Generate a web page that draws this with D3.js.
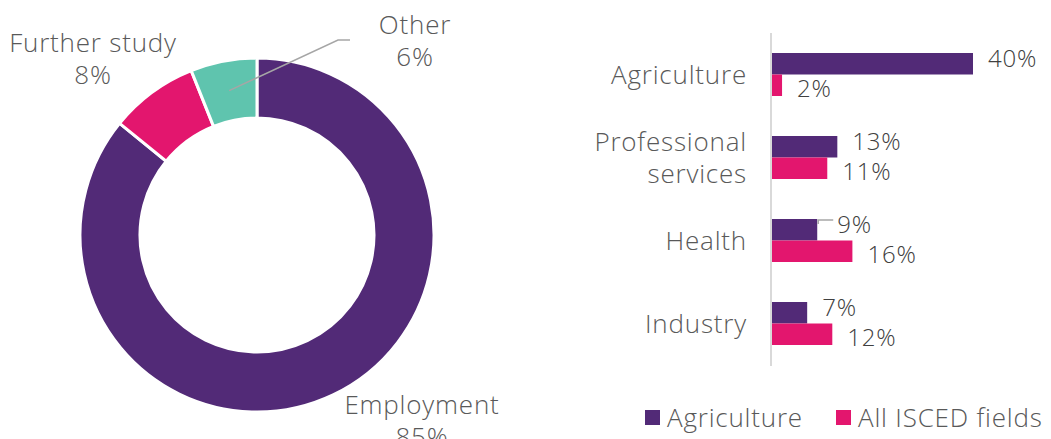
<!DOCTYPE html>
<html>
<head>
<meta charset="utf-8">
<script src="https://cdn.jsdelivr.net/npm/d3@7"></script>
<style>
  body { margin: 0; background: #fff; }
  text { font-family: "Open Sans", Lato, sans-serif; font-weight: 300; fill: #595959; letter-spacing: 0.8px; }
</style>
</head>
<body>
<svg id="chart" width="1051" height="439"></svg>
<script>
// donut data
var outcomes = ["Employment", "Further study", "Other"];
var outcomeShares = [85, 8, 6];

// bar data
var fields = ["Agriculture", "Professional services", "Health", "Industry"];
var seriesNames = ["Agriculture", "All ISCED fields"];
var agriValues = [40, 13, 9, 7];
var allValues = [2, 11, 16, 12];

var purple = "#522a77", pink = "#e3166e", teal = "#5fc4ae";

var svg = d3.select("#chart");

// ---- donut ----
var pieData = outcomes.map(function (d, i) { return { name: d, value: outcomeShares[i] }; });
var pie = d3.pie().sort(null).value(function (d) { return d.value; });
var arc = d3.arc().innerRadius(117).outerRadius(177);
var colors = d3.scaleOrdinal().domain(outcomes).range([purple, pink, teal]);

var donut = svg.append("g").attr("transform", "translate(257,235)");
donut.selectAll("path")
    .data(pie(pieData))
    .enter().append("path")
    .attr("d", arc)
    .attr("fill", function (d) { return colors(d.data.name); })
    .attr("stroke", "#fff")
    .attr("stroke-width", 3);

// leader line for "Other"
var otherArc = pie(pieData)[2];
var mid = d3.arc().innerRadius(147).outerRadius(147).centroid(otherArc);
donut.append("polyline")
    .attr("points", [[mid[0], mid[1]], [81, -195], [93, -195]].map(function (p) { return p.join(","); }).join(" "))
    .attr("fill", "none")
    .attr("stroke", "#a6a6a6")
    .attr("stroke-width", 1.5);

var pieLabels = [
  { name: "Employment", x: 422, y: 405 },
  { name: "Further study", x: 93, y: 43 },
  { name: "Other", x: 415, y: 25 }
];
pieLabels.forEach(function (l, i) {
  var t = svg.append("text")
      .attr("text-anchor", "middle")
      .attr("font-size", 26)
      .attr("x", l.x).attr("y", l.y);
  t.append("tspan").attr("x", l.x).attr("dy", "0.35em").text(l.name);
  t.append("tspan").attr("x", l.x).attr("dy", 32).text(outcomeShares[i] + "%");
});

// ---- bars ----
var left = 772;
var x = d3.scaleLinear().domain([0, 40]).range([0, 201]);
var y = d3.scaleBand().domain(fields).range([33, 365]);
var inner = d3.scaleBand().domain(seriesNames).range([0, 43]);
var barColors = [purple, pink];

var bars = svg.append("g");
fields.forEach(function (f, i) {
  var vals = [agriValues[i], allValues[i]];
  var y0 = y(f) + y.bandwidth() / 2 - 21.5;
  seriesNames.forEach(function (s, j) {
    var by = y0 + inner(s);
    bars.append("rect")
        .attr("x", left)
        .attr("y", by)
        .attr("width", x(vals[j]))
        .attr("height", inner.bandwidth())
        .attr("fill", barColors[j]);
    var lx = left + x(vals[j]) + (f === "Health" && j === 0 ? 20 : 15);
    var ly = by + inner.bandwidth() / 2 + (j === 0 ? -5 : 3);
    if (f === "Health" && j === 0) {
      // small leader line
      bars.append("polyline")
          .attr("points", [[left + x(vals[j]) + 1, by + 5], [left + x(vals[j]) + 1, by + 1], [lx - 4, by + 1]].map(function (p) { return p.join(","); }).join(" "))
          .attr("fill", "none").attr("stroke", "#a6a6a6").attr("stroke-width", 1.5);
    }
    bars.append("text")
        .attr("x", lx)
        .attr("y", ly)
        .attr("dy", "0.35em")
        .attr("font-size", 24)
        .style("fill", "#404040")
        .text(vals[j] + "%");
  });
});

// axis line (no ticks)
svg.append("line")
    .attr("x1", left - 1).attr("x2", left - 1)
    .attr("y1", y.range()[0]).attr("y2", y.range()[1] + 1)
    .attr("stroke", "#d9d9d9").attr("stroke-width", 2);

// category labels
fields.forEach(function (f) {
  var cy = y(f) + y.bandwidth() / 2;
  var t = svg.append("text")
      .attr("text-anchor", "end")
      .attr("font-size", 26);
  if (f === "Professional services") {
    t.append("tspan").attr("x", 747).attr("y", cy - 16).attr("dy", "0.35em").text("Professional");
    t.append("tspan").attr("x", 747).attr("y", cy + 16).attr("dy", "0.35em").text("services");
  } else {
    t.attr("x", 747).attr("y", cy).attr("dy", "0.35em").text(f);
  }
});

// legend
var legendX = [645, 836];
seriesNames.forEach(function (s, j) {
  svg.append("rect")
      .attr("x", legendX[j]).attr("y", 410)
      .attr("width", 15).attr("height", 15)
      .attr("fill", barColors[j]);
  svg.append("text")
      .attr("x", legendX[j] + 22).attr("y", 418)
      .attr("dy", "0.35em")
      .attr("font-size", 26)
      .text(s);
});
</script>
</body>
</html>
